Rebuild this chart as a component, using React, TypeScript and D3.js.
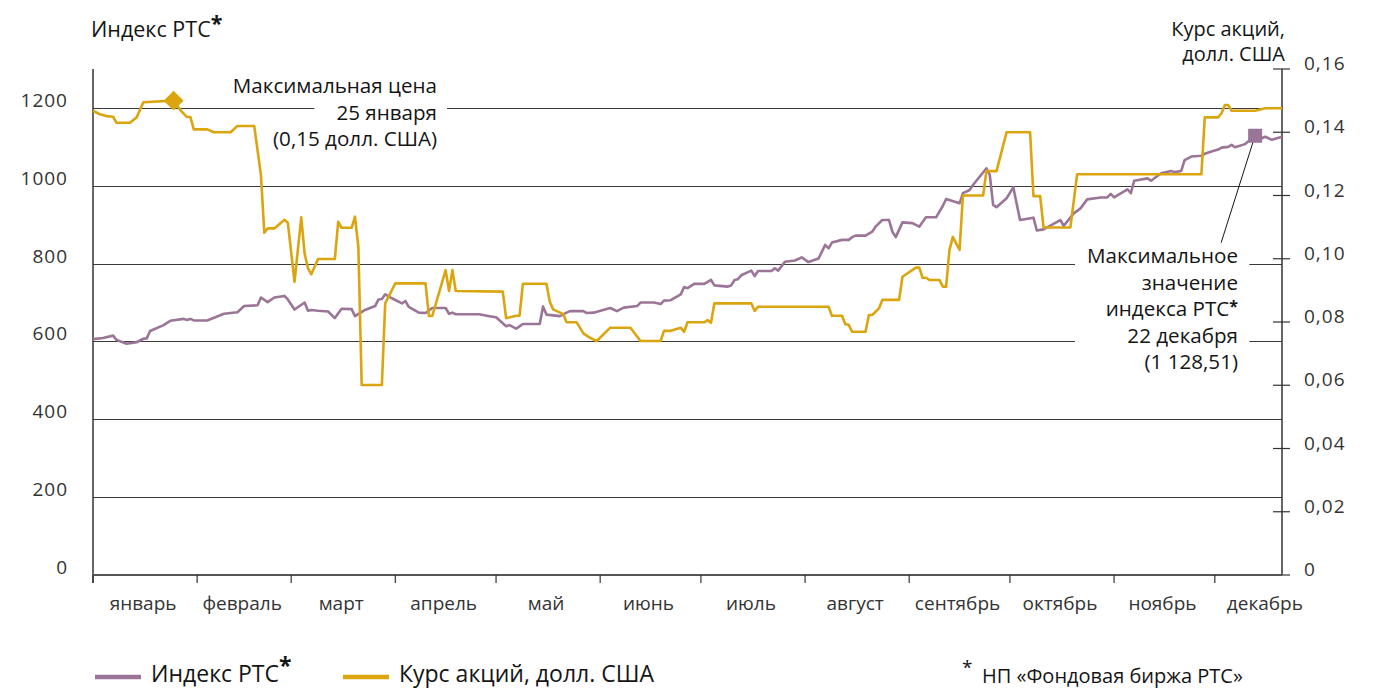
import React, { useEffect, useRef } from 'react';
import * as d3 from 'd3';

// Month names under the x axis
const months = ['январь', 'февраль', 'март', 'апрель', 'май', 'июнь', 'июль', 'август', 'сентябрь', 'октябрь', 'ноябрь', 'декабрь'];

// Tick values for both y axes
const leftTicks = [0, 200, 400, 600, 800, 1000, 1200];
const rightTicks = [0, 0.02, 0.04, 0.06, 0.08, 0.1, 0.12, 0.14, 0.16];

// RTS index (left axis)
const rtsDates = [
  '01-01', '01-04', '01-07', '01-08', '01-11', '01-14', '01-16', '01-17', '01-18', '01-22', '01-24', '01-28', '01-29', '01-30', '01-31',
  '02-04', '02-09', '02-13', '02-15', '02-19', '02-20', '02-22', '02-24', '02-27', '02-28',
  '03-02', '03-05', '03-06', '03-07', '03-09', '03-12', '03-14', '03-16', '03-19', '03-20', '03-23', '03-26', '03-27', '03-28', '03-29', '03-31',
  '04-03', '04-04', '04-05', '04-08', '04-10', '04-12', '04-16', '04-17', '04-18', '04-19', '04-26', '04-29',
  '05-01', '05-04', '05-05', '05-07', '05-09', '05-14', '05-15', '05-16', '05-20', '05-22', '05-23', '05-27', '05-28', '05-30',
  '06-04', '06-06', '06-08', '06-12', '06-13', '06-17', '06-19', '06-20', '06-22', '06-25', '06-26', '06-27', '06-29',
  '07-02', '07-04', '07-05', '07-09', '07-10', '07-11', '07-12', '07-13', '07-16', '07-17', '07-18', '07-22', '07-23', '07-24', '07-26', '07-29', '07-31',
  '08-02', '08-05', '08-07', '08-08', '08-09', '08-12', '08-14', '08-15', '08-16', '08-19', '08-21', '08-22', '08-24', '08-26', '08-27', '08-28', '08-30',
  '09-02', '09-04', '09-06', '09-09', '09-11', '09-12', '09-16', '09-17', '09-19', '09-20', '09-24', '09-25', '09-26', '09-27', '09-30',
  '10-02', '10-04', '10-08', '10-09', '10-11', '10-16', '10-17', '10-20', '10-22', '10-24', '10-28', '10-30', '10-31',
  '11-01', '11-05', '11-06', '11-07', '11-11', '11-12', '11-15', '11-18', '11-19', '11-21', '11-22', '11-24', '11-27', '11-28', '11-30',
  '12-02', '12-03', '12-05', '12-06', '12-07', '12-10', '12-13', '12-15', '12-16', '12-18', '12-21',
];
const rtsValues = [
  606, 609, 615, 604, 594, 598, 607, 608, 627, 642, 653, 658, 655, 658, 654,
  654, 671, 675, 691, 693, 713, 701, 713, 717, 708,
  682, 700, 679, 681, 679, 677, 660, 684, 683, 665, 681, 691, 708, 709, 721, 711,
  698, 704, 689, 674, 673, 686, 686, 671, 674, 670, 670, 665,
  662, 639, 642, 633, 645, 645, 690, 669, 665, 674, 678, 678, 673, 674,
  686, 678, 687, 691, 700, 700, 696, 705, 706, 721, 740, 737, 748,
  748, 758, 744, 741, 744, 758, 760, 770, 782, 768, 781, 781, 788, 782, 805, 808, 816,
  804, 813, 848, 839, 854, 861, 861, 868, 872, 872, 882, 895, 912, 912, 882, 868, 906,
  904, 895, 919, 919, 948, 966, 955, 981, 989, 1002, 1045, 1028, 951, 945, 968,
  996, 912, 918, 885, 888, 912, 897, 929, 942, 965, 970, 970, 979,
  970, 991, 981, 1013, 1019, 1013, 1032, 1038, 1035, 1038, 1066, 1075, 1077, 1082, 1088,
  1093, 1098, 1100, 1105, 1099, 1107, 1128.51, 1122, 1126, 1118, 1126,
];

// Share price, USD (right axis)
const priceDates = [
  '01-01', '01-03', '01-05', '01-07', '01-08', '01-12', '01-14', '01-16', '01-25', '01-27', '01-29', '01-30', '01-31',
  '02-04', '02-06', '02-11', '02-13', '02-18', '02-20', '02-21', '02-22', '02-24', '02-27', '02-28',
  '03-02', '03-04', '03-05', '03-06', '03-07', '03-09', '03-14', '03-15', '03-16', '03-19', '03-20', '03-21', '03-22', '03-28', '03-29',
  '04-01', '04-10', '04-11', '04-12', '04-16', '04-17', '04-18', '04-19',
  '05-03', '05-04', '05-07', '05-08', '05-09', '05-16', '05-17', '05-18', '05-21', '05-22', '05-25', '05-27', '05-29', '05-31',
  '06-04', '06-10', '06-12', '06-13', '06-19', '06-20', '06-22', '06-25', '06-26', '06-27',
  '07-02', '07-03', '07-04', '07-05', '07-16', '07-17', '07-18',
  '08-08', '08-09', '08-12', '08-13', '08-14', '08-15', '08-19', '08-20', '08-21', '08-23', '08-24', '08-29', '08-30',
  '09-03', '09-04', '09-05', '09-06', '09-07', '09-10', '09-11', '09-12', '09-13', '09-14', '09-16', '09-17', '09-23', '09-24', '09-27', '09-30',
  '10-07', '10-08', '10-10', '10-11', '10-19', '10-21',
  '11-27', '11-28',
  '12-02', '12-03', '12-04', '12-05', '12-06', '12-13', '12-16', '12-21',
];
const priceValues = [
  0.1468, 0.1457, 0.1451, 0.1449, 0.143, 0.143, 0.1447, 0.1495, 0.15, 0.147, 0.1448, 0.1448, 0.1409,
  0.1409, 0.14, 0.14, 0.142, 0.142, 0.1265, 0.1082, 0.1096, 0.1096, 0.1123, 0.1114,
  0.0927, 0.1131, 0.1017, 0.097, 0.0951, 0.0999, 0.0999, 0.1117, 0.1098, 0.1098, 0.1133, 0.1038, 0.0601, 0.0601, 0.0859,
  0.0922, 0.0922, 0.0819, 0.0819, 0.0964, 0.0898, 0.0964, 0.0898,
  0.0896, 0.0812, 0.082, 0.082, 0.0921, 0.0921, 0.0864, 0.084, 0.0825, 0.0799, 0.0799, 0.0764, 0.075, 0.074,
  0.0782, 0.0782, 0.0754, 0.074, 0.074, 0.0772, 0.0772, 0.0782, 0.0769, 0.0799,
  0.0799, 0.0806, 0.0798, 0.0859, 0.0859, 0.0835, 0.0848,
  0.0848, 0.082, 0.082, 0.0793, 0.0791, 0.0769, 0.0769, 0.0822, 0.0822, 0.0843, 0.087, 0.087, 0.0943,
  0.0972, 0.0972, 0.094, 0.094, 0.0933, 0.0933, 0.0912, 0.0912, 0.1028, 0.1069, 0.1028, 0.12, 0.12, 0.1277, 0.1277, 0.14,
  0.14, 0.1198, 0.1198, 0.1099, 0.1099, 0.1267,
  0.1267, 0.1447,
  0.1447, 0.146, 0.1486, 0.1486, 0.1468, 0.1468, 0.1476, 0.1476,
];

const year = 2005;
const parseDay = (s: string) => d3.timeParse('%Y-%m-%d')(`${year}-${s}`) as Date;

const purple = '#9b7597';
const gold = '#dba50f';
const ink = '#151515';
const font = "'Open Sans', sans-serif";

const ru = d3.formatLocale({ decimal: ',', thousands: '\u00a0', grouping: [3], currency: ['', ''] });

const App = () => {
  const width = 1382;
  const height = 689;
  const svgRef = useRef<SVGSVGElement>(null);

  useEffect(() => {
    const svg = d3.select(svgRef.current);
    svg.selectAll('*').remove();

    const left = 93;
    const right = 1282;
    const top = 69;
    const bottom = 575;

    const x = d3.scaleTime().domain([parseDay('01-01'), parseDay('12-21')]).range([left, right]);
    const yL = d3.scaleLinear().domain([0, 1300]).range([bottom, top]);
    const yR = d3.scaleLinear().domain([0, 0.16]).range([bottom, top]);

    const rts = rtsDates.map((d, i) => ({ date: parseDay(d), value: rtsValues[i] }));
    const price = priceDates.map((d, i) => ({ date: parseDay(d), value: priceValues[i] }));

    // horizontal grid lines
    svg
      .append('g')
      .selectAll('line')
      .data(leftTicks.filter((t) => t > 0))
      .enter()
      .append('line')
      .attr('x1', left)
      .attr('x2', right)
      .attr('y1', (d) => Math.round(yL(d)) + 0.5)
      .attr('y2', (d) => Math.round(yL(d)) + 0.5)
      .attr('stroke', '#3a3a3a')
      .attr('stroke-width', 1.2);

    // left axis labels
    svg
      .append('g')
      .selectAll('text')
      .data(leftTicks)
      .enter()
      .append('text')
      .attr('x', 68)
      .attr('y', (d) => yL(d) - 1)
      .attr('text-anchor', 'end')
      .attr('font-family', font)
      .attr('font-size', 19)
      .attr('letter-spacing', 1)
      .attr('fill', '#333')
      .text((d) => String(d));

    // right axis with crossing ticks
    svg.append('line').attr('x1', right).attr('x2', right).attr('y1', top).attr('y2', bottom)
      .attr('stroke', '#333').attr('stroke-width', 1.5);
    svg
      .append('g')
      .selectAll('line')
      .data(rightTicks)
      .enter()
      .append('line')
      .attr('x1', right - 9)
      .attr('x2', right + 8)
      .attr('y1', (d) => yR(d))
      .attr('y2', (d) => yR(d))
      .attr('stroke', '#333')
      .attr('stroke-width', 1.2);
    svg
      .append('g')
      .selectAll('text')
      .data(rightTicks)
      .enter()
      .append('text')
      .attr('x', right + 22)
      .attr('y', (d) => yR(d) + 1)
      .attr('font-family', font)
      .attr('font-size', 19)
      .attr('letter-spacing', 1)
      .attr('fill', '#333')
      .text((d) => (d === 0 ? '0' : ru.format('.2f')(d)));

    // left axis line and x axis
    svg.append('line').attr('x1', left).attr('x2', left).attr('y1', top).attr('y2', bottom + 8)
      .attr('stroke', '#333').attr('stroke-width', 1.5);
    svg.append('line').attr('x1', left).attr('x2', right).attr('y1', bottom).attr('y2', bottom)
      .attr('stroke', '#555').attr('stroke-width', 2);

    const monthStarts = d3.timeMonths(new Date(year, 0, 1), new Date(year, 11, 2));
    svg
      .append('g')
      .selectAll('line')
      .data(monthStarts)
      .enter()
      .append('line')
      .attr('x1', (d) => x(d))
      .attr('x2', (d) => x(d))
      .attr('y1', bottom)
      .attr('y2', bottom + 8)
      .attr('stroke', '#333')
      .attr('stroke-width', 1.2);
    svg
      .append('g')
      .selectAll('text')
      .data(monthStarts)
      .enter()
      .append('text')
      .attr('x', (d) => (x(d) + x(d3.timeMonth.offset(d, 1))) / 2 - 2)
      .attr('y', 610)
      .attr('text-anchor', 'middle')
      .attr('font-family', font)
      .attr('font-size', 19)
      .attr('fill', '#333')
      .text((d, i) => months[i]);

    const priceMax = price[d3.maxIndex(price, (d) => d.value)];
    const rtsMax = rts[d3.maxIndex(rts, (d) => d.value)];

    // multi-line label as one text element (tspans), right aligned
    const multiline = (g, lines, xr, y0, step, size) => {
      const t = g.append('text')
        .attr('text-anchor', 'end')
        .attr('font-family', font)
        .attr('font-size', size)
        .attr('fill', ink);
      const spans = lines.map((line, i) => {
        const s = t.append('tspan').attr('x', xr).attr('y', y0 + i * step);
        if (line.endsWith('*')) {
          s.append('tspan').text(line.slice(0, -1));
          s.append('tspan').attr('dy', -4).attr('font-size', 16).attr('font-weight', 'bold').text('*');
        } else {
          s.text(line);
        }
        return s;
      });
      return { t, spans };
    };

    // max price note; a white strip cuts the 1200 grid line behind the middle line
    const noteA = svg.append('g');
    const a = multiline(noteA, ['Максимальная цена', '25 января', '(0,15 долл. США)'], 437, 93, 26.5, 20.6);
    const midWidth = (a.spans[1].node() as SVGTextContentElement).getComputedTextLength();
    noteA.insert('rect', 'text').attr('x', 437 - midWidth - 22).attr('y', 98)
      .attr('width', midWidth + 32).attr('height', 20).attr('fill', '#fff');

    // max RTS note
    const noteB = svg.append('g');
    multiline(noteB, ['Максимальное', 'значение', 'индекса РТС*', '22 декабря', '(1 128,51)'], 1238, 263, 26.6, 20.6);
    const bbB = (noteB.node() as SVGGElement).getBBox();
    noteB.insert('rect', 'text').attr('x', bbB.x - 12).attr('y', bbB.y).attr('width', bbB.width + 23)
      .attr('height', bbB.height).attr('fill', '#fff');

    // pointer from the RTS maximum to its label
    svg.append('line')
      .attr('x1', x(rtsMax.date) - 2).attr('y1', yL(rtsMax.value) + 6)
      .attr('x2', x(rtsMax.date) - 34).attr('y2', yL(rtsMax.value) + 107)
      .attr('stroke', ink).attr('stroke-width', 1);

    // data lines
    const lineL = d3.line<any>().x((d) => x(d.date)).y((d) => yL(d.value));
    const lineR = d3.line<any>().x((d) => x(d.date)).y((d) => yR(d.value));
    svg.append('path').datum(rts).attr('d', lineL).attr('fill', 'none').attr('stroke', purple)
      .attr('stroke-width', 2.6).attr('stroke-linejoin', 'round');
    svg.append('path').datum(price).attr('d', lineR).attr('fill', 'none').attr('stroke', gold)
      .attr('stroke-width', 2.6).attr('stroke-linejoin', 'round');

    // markers for the maxima
    svg.append('path')
      .attr('d', d3.symbol(d3.symbolSquare, 200)())
      .attr('transform', `translate(${x(priceMax.date)},${yR(priceMax.value)}) rotate(45)`)
      .attr('fill', gold);
    svg.append('rect')
      .attr('x', x(rtsMax.date) - 7).attr('y', yL(rtsMax.value) - 7)
      .attr('width', 14).attr('height', 14)
      .attr('fill', purple);

    // axis titles
    const titleL = svg.append('text').attr('x', 91).attr('y', 37).attr('font-family', font)
      .attr('font-size', 21.5).attr('fill', ink);
    titleL.append('tspan').text('Индекс РТС');
    titleL.append('tspan').attr('dy', -6).attr('font-weight', 'bold').text('*');

    multiline(svg.append('g'), ['Курс акций,', 'долл. США'], 1285, 35.5, 25.8, 20);

    // legend
    const legend = [
      { label: 'Индекс РТС', star: true, color: purple, x0: 95 },
      { label: 'Курс акций, долл. США', star: false, color: gold, x0: 343 },
    ];
    legend.forEach((item) => {
      svg.append('line').attr('x1', item.x0).attr('x2', item.x0 + 46).attr('y1', 677).attr('y2', 677)
        .attr('stroke', item.color).attr('stroke-width', 4.5);
      const t = svg.append('text').attr('x', item.x0 + 56).attr('y', 682).attr('font-family', font)
        .attr('font-size', 23).attr('fill', ink);
      t.append('tspan').text(item.label);
      if (item.star) t.append('tspan').attr('dy', -8).attr('font-weight', 'bold').text('*');
    });

    // footnote
    svg.append('text').attr('x', 962).attr('y', 674).attr('font-family', font).attr('font-size', 19)
      .attr('fill', ink).text('*');
    svg.append('text').attr('x', 982).attr('y', 683).attr('font-family', font).attr('font-size', 20)
      .attr('fill', ink).text('НП «Фондовая биржа РТС»');
  }, []);

  return (
    <svg
      ref={svgRef}
      width={width}
      height={height}
      style={{ position: 'absolute', left: 0, top: 0, background: '#fff' }}
    />
  );
};

export default App;
